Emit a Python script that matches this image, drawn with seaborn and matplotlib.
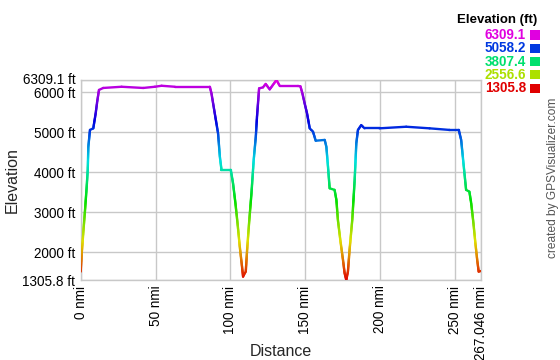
import colorsys
import numpy as np
import pandas as pd
import matplotlib
matplotlib.use("Agg")
import matplotlib.pyplot as plt
from matplotlib.colors import ListedColormap
from matplotlib.patches import Rectangle
from matplotlib.transforms import ScaledTranslation
import seaborn as sns

# ---- data ----
dist = [0.0, 0.7, 1.7, 2.9, 4.0, 4.7, 5.1, 6.2, 8.4, 10.0, 11.0, 12.2, 15.0, 27.3, 41.7,
        49.5, 54.0, 62.9, 86.2, 87.3, 89.5, 91.7, 92.9, 94.0, 100.2, 101.7, 103.3, 104.7,
        106.2, 107.7, 108.4, 108.9, 110.2, 111.1, 112.4, 114.0, 115.5, 116.9, 117.7, 119.1,
        121.7, 123.5, 126.2, 130.7, 132.9, 145.1, 146.7, 148.0, 149.5, 151.1, 152.9, 155.1,
        156.9, 162.9, 164.0, 165.1, 166.2, 169.5, 170.7, 171.7, 173.3, 175.1, 176.2, 177.3,
        178.4, 179.5, 181.3, 182.9, 184.0, 185.1, 187.3, 189.5, 199.5, 217.3, 232.9, 246.2,
        252.4, 254.0, 255.1, 256.2, 257.3, 259.5, 260.7, 262.2, 263.5, 264.7, 265.7, 267.046]
elev = [1515, 1975, 2475, 3060, 3640, 4060, 4640, 5060, 5100, 5475, 5765, 6060, 6110, 6140,
        6110, 6140, 6165, 6140, 6140, 5975, 5475, 4975, 4390, 4060, 4060, 3725, 3225, 2725,
        2140, 1640, 1390, 1430, 1515, 2060, 2725, 3475, 4310, 4890, 5390, 6100, 6125, 6210,
        6075, 6309.1, 6160, 6160, 6150, 5975, 5725, 5475, 5100, 5015, 4790, 4810, 4640, 4140,
        3600, 3560, 3310, 2810, 2310, 1810, 1475, 1305.8, 1515, 2060, 2810, 3810, 4725, 5060,
        5180, 5100, 5100, 5140, 5100, 5060, 5060, 4810, 4390, 3975, 3560, 3515, 3225, 2725,
        2225, 1810, 1515, 1530]

y_ticks = [1305.8, 2000, 3000, 4000, 5000, 6000, 6309.1]
y_tick_labels = ["1305.8 ft", "2000 ft", "3000 ft", "4000 ft", "5000 ft", "6000 ft", "6309.1 ft"]
x_ticks = [0, 50, 100, 150, 200, 250, 267.046]
x_tick_labels = ["0 nmi", "50 nmi", "100 nmi", "150 nmi", "200 nmi", "250 nmi", "267.046 nmi"]
legend_values = [6309.1, 5058.2, 3807.4, 2556.6, 1305.8]
legend_title = "Elevation (ft)"

ymin, ymax = 1305.8, 6309.1
xmin, xmax = 0, 267.046

# colormap: hue 0 -> 300 degrees
cols = [colorsys.hsv_to_rgb(h / 360.0, 1.0, 0.88) for h in np.linspace(0, 300, 256)]
cmap = ListedColormap(cols)

def color_of(v):
    return cmap((v - ymin) / (ymax - ymin))

# build short segments for a smooth colour gradient (render detail)
rows = []
seg = 0
for i in range(len(dist) - 1):
    x0, x1 = dist[i], dist[i + 1]
    y0, y1 = elev[i], elev[i + 1]
    n = max(1, int(abs(y1 - y0) / 30))
    ts = np.linspace(0, 1, n + 1)
    for k in range(n):
        xa, xb = x0 + (x1 - x0) * ts[k], x0 + (x1 - x0) * ts[k + 1]
        ya, yb = y0 + (y1 - y0) * ts[k], y0 + (y1 - y0) * ts[k + 1]
        c = (ya + yb) / 2
        rows.append((xa, ya, seg, c))
        rows.append((xb, yb, seg, c))
        seg += 1
df = pd.DataFrame(rows, columns=["x", "y", "seg", "c"])

sns.set_style("white")
plt.rcParams["font.family"] = ["Liberation Sans", "DejaVu Sans"]

fig = plt.figure(figsize=(5.6, 3.6), dpi=100)
ax = fig.add_axes([80.7 / 560, 1 - 280 / 360, 400 / 560, 200 / 360])

sns.lineplot(data=df, x="x", y="y", units="seg", hue="c", estimator=None, sort=False,
             palette=cmap, hue_norm=(ymin, ymax), legend=False, linewidth=1.7,
             solid_capstyle="round", ax=ax, zorder=3)

ax.set_xlim(xmin, xmax)
ax.set_ylim(ymin, ymax)
ax.set_yticks(y_ticks)
ax.set_yticklabels(y_tick_labels, fontsize=9.75)
ax.set_xticks(x_ticks)
ax.set_xticklabels(x_tick_labels, fontsize=9.75, rotation=90)
ax.tick_params(axis="both", length=0, pad=4, colors="black")
# nudge the top y label up slightly, as in the reference
top_lbl = ax.get_yticklabels()[-1]
top_lbl.set_transform(top_lbl.get_transform() + ScaledTranslation(0, 2 / 100, fig.dpi_scale_trans))
ax.grid(True, color="#c8c8c8", linewidth=1)
for s in ax.spines.values():
    s.set_color("#c8c8c8")
    s.set_linewidth(1)
ax.set_xlabel("Distance", fontsize=11.5, va="center")
ax.set_ylabel("Elevation", fontsize=11.5, va="center")
ax.xaxis.set_label_coords(0.5, -(352 - 280) / 200)
ax.yaxis.set_label_coords(-(80.7 - 12.5) / 400, 0.5)

# legend (top right)
fig.text(537 / 560, 1 - 20 / 360, legend_title, ha="right", va="center",
         fontsize=9.5, fontweight="bold", color="black")
for i, v in enumerate(legend_values):
    yc = 35 + 13.3 * i
    col = color_of(v)
    fig.text(526 / 560, 1 - yc / 360, f"{v:.1f}", ha="right", va="center",
             fontsize=9.75, fontweight="bold", color=col)
    fig.patches.append(Rectangle((530 / 560, 1 - (yc + 4.5) / 360), 10 / 560, 9 / 360,
                                 transform=fig.transFigure, facecolor=col, edgecolor="none"))

fig.text(553 / 560, 1 - 178 / 360, "created by GPSVisualizer.com", rotation=90,
         ha="center", va="center", fontsize=8.6, color="#555555")

fig.savefig("out.png", dpi=100)
